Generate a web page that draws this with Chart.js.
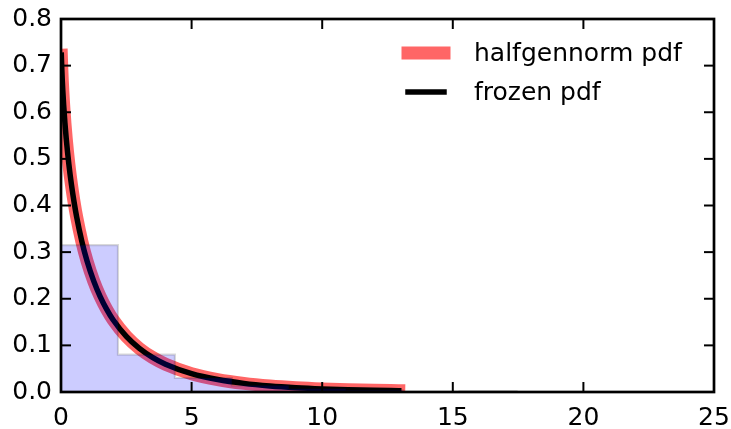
<!DOCTYPE html>
<html>
<head>
<meta charset="utf-8">
<script src="https://cdn.jsdelivr.net/npm/chart.js@4/dist/chart.umd.min.js"></script>
<style>
  html, body { margin: 0; padding: 0; background: #ffffff; }
  #wrap { width: 731px; height: 429px; }
</style>
</head>
<body>
<div id="wrap"><canvas id="c" width="731" height="429"></canvas></div>
<script>
// ---- data ----
const binEdges   = [0, 2.18, 4.36, 6.54, 8.72, 10.9, 13.08, 15.26, 17.44];
const binDensity = [0.315, 0.080, 0.030, 0.014, 0.007, 0.0035, 0.0005, 0.002];

const pdfX = [0.013, 0.03, 0.05, 0.07, 0.1, 0.15, 0.2, 0.3, 0.4, 0.5, 0.6, 0.8, 1.0, 1.25, 1.5, 1.75, 2.0, 2.5, 3.0, 3.5, 4.0, 5.0, 6.0, 7.0, 8.0, 9.0, 10.0, 11.0, 12.0, 12.93];
const pdfY = [0.7225, 0.6938, 0.6675, 0.6455, 0.6168, 0.5771, 0.5438, 0.4890, 0.4446, 0.4074, 0.3752, 0.3224, 0.2803, 0.2383, 0.2046, 0.1772, 0.1543, 0.1191, 0.0934, 0.0742, 0.0596, 0.0393, 0.0267, 0.0185, 0.0130, 0.0093, 0.0067, 0.0049, 0.0036, 0.0027];

const xTicks = [0, 5, 10, 15, 20, 25];
const yTicks = [0.0, 0.1, 0.2, 0.3, 0.4, 0.5, 0.6, 0.7, 0.8];
const seriesNames = ['halfgennorm pdf', 'frozen pdf'];

// ---- build datasets ----
const histPts = binEdges.map((e, i) => ({ x: e, y: i < binDensity.length ? binDensity[i] : 0 }));
const pdfPts = pdfX.map((x, i) => ({ x: x, y: pdfY[i] }));

const FS = 25;
Chart.defaults.font.family = 'DejaVu Sans';
Chart.defaults.font.size = FS;
Chart.defaults.color = '#000';

const FONT = FS + 'px "DejaVu Sans"';

const spinesAndLegend = {
  id: 'spinesAndLegend',
  afterDraw(chart) {
    const { ctx, chartArea: a, scales: { x, y } } = chart;
    ctx.save();
    const line = (x1, y1, x2, y2) => { ctx.beginPath(); ctx.moveTo(x1, y1); ctx.lineTo(x2, y2); ctx.stroke(); };
    ctx.strokeStyle = '#000';
    ctx.lineWidth = 2;
    const tl = 10;
    xTicks.forEach(v => { const p = x.getPixelForValue(v); line(p, a.bottom, p, a.bottom - tl); line(p, a.top, p, a.top + tl); });
    yTicks.forEach(v => { const p = y.getPixelForValue(v); line(a.left, p, a.left + tl, p); line(a.right, p, a.right - tl, p); });
    ctx.lineWidth = 2.7;
    ctx.strokeRect(a.left, a.top, a.right - a.left, a.bottom - a.top);

    // legend (no frame), top-right inside the axes
    const ds = chart.data.datasets;
    const entries = [ds[2], ds[1]];
    const rowsY = [53, 92];
    ctx.font = FONT;
    ctx.textBaseline = 'middle';
    ctx.textAlign = 'left';
    entries.forEach((d, i) => {
      ctx.strokeStyle = d.borderColor;
      ctx.lineWidth = d.borderWidth;
      ctx.lineCap = 'square';
      line(408, rowsY[i], 444, rowsY[i]);
      ctx.fillStyle = '#000';
      ctx.fillText(seriesNames[i], 474, rowsY[i] + 1);
    });
    ctx.restore();
  }
};

new Chart(document.getElementById('c'), {
  type: 'line',
  data: {
    datasets: [
      {
        label: 'hist',
        data: histPts,
        stepped: 'before',
        fill: 'origin',
        backgroundColor: 'rgba(0,0,255,0.2)',
        borderColor: 'rgba(0,0,0,0.15)',
        borderWidth: 2.2,
        pointRadius: 0,
        tension: 0
      },
      {
        label: seriesNames[1],
        data: pdfPts,
        borderColor: '#000000',
        borderWidth: 5.5,
        borderCapStyle: 'square',
        pointRadius: 0,
        fill: false,
        cubicInterpolationMode: 'monotone'
      },
      {
        label: seriesNames[0],
        data: pdfPts,
        borderColor: 'rgba(255,0,0,0.6)',
        borderWidth: 13,
        borderCapStyle: 'square',
        pointRadius: 0,
        fill: false,
        cubicInterpolationMode: 'monotone'
      }
    ]
  },
  plugins: [spinesAndLegend],
  options: {
    responsive: false,
    animation: false,
    devicePixelRatio: 1,
    layout: { padding: { top: 19, right: 17, left: 0, bottom: 0 } },
    plugins: { legend: { display: false }, tooltip: { enabled: false } },
    scales: {
      x: {
        type: 'linear',
        min: 0, max: 25,
        grid: { display: false, drawTicks: false },
        border: { display: false },
        ticks: { stepSize: 5, padding: 11, maxRotation: 0, font: { size: FS }, color: '#000' },
        afterFit(s) { s.height = 37; s.paddingLeft = 0; s.paddingRight = 0; }
      },
      y: {
        type: 'linear',
        min: 0, max: 0.8,
        grid: { display: false, drawTicks: false },
        border: { display: false },
        ticks: { stepSize: 0.1, padding: 9, font: { size: FS }, color: '#000',
                 callback: v => Number(v).toFixed(1) },
        afterFit(s) { s.width = 61; s.paddingTop = 0; s.paddingBottom = 0; }
      }
    }
  }
});
</script>
</body>
</html>
